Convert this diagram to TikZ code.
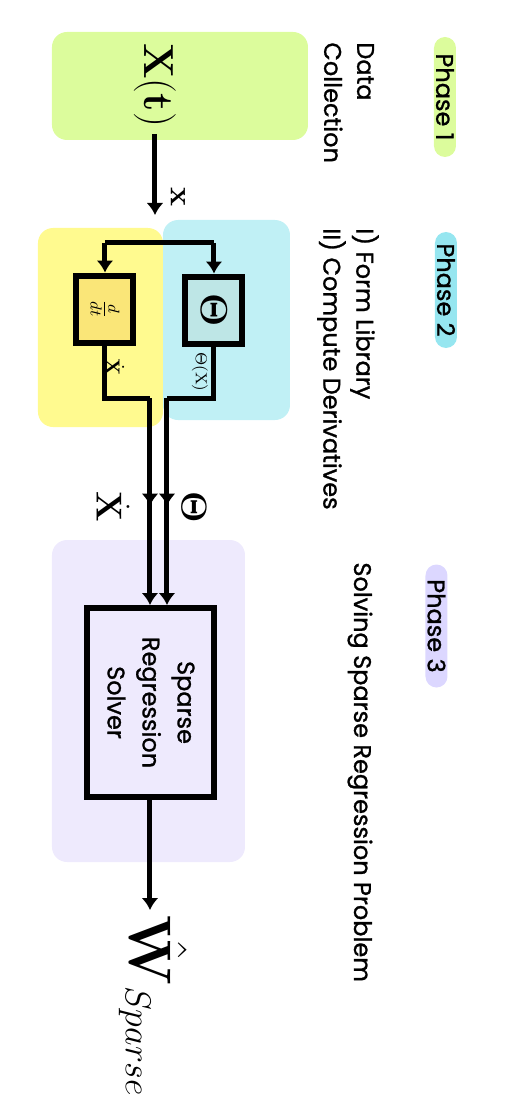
\RequirePackage{fix-cm}
\documentclass[tikz,border=0pt]{standalone}
\usepackage[no-math]{fontspec}
\newfontfamily\comicfont[FakeBold=1.1]{Poppins}
\usetikzlibrary{arrows.meta,positioning,decorations.markings}
\definecolor{datagreen}{HTML}{DCFC9C}
\definecolor{libcyan}{HTML}{C0F0F5}
\definecolor{derivyellow}{HTML}{FFFA8F}
\definecolor{solvelilac}{HTML}{EEEAFD}
\definecolor{pilltwo}{HTML}{96E6F0}
\definecolor{pillthree}{HTML}{DCD7FF}
\definecolor{ddtfill}{HTML}{FAE678}
\definecolor{thetafill}{HTML}{BEE6E6}
\begin{document}
\begin{tikzpicture}[x=0.5pt,y=0.5pt,rotate=-90,transform shape,
    phasepill/.style ={rounded corners=5.5pt, inner sep=0pt, minimum height=11pt,
                       font=\comicfont\fontsize{12}{12}\selectfont},
    phasetext/.style ={anchor=west, align=left, inner sep=0pt,
                       font=\comicfont\fontsize{12}{16.5}\selectfont},
    phasebg/.style   ={rounded corners=7.5pt, inner sep=0pt},
    blockbox/.style  ={draw, line width=3pt, inner sep=0pt},
    wire/.style      ={line width=2.5pt},
    flow/.style      ={line width=2.5pt, -{Latex[length=6pt,width=8.5pt]}},
    midflow/.style   ={flow, postaction=decorate, decoration={markings,
                       mark=at position 0.52 with {\arrow{Latex[length=6pt,width=8.5pt]}}}}]
   \useasboundingbox (0,0) rectangle (1118,-525);

   % background areas of the three phases
   \node[phasebg, fill=datagreen, minimum width=54pt, minimum height=128pt] (bgdata) at (86,-345) {};
   \node[phasebg, fill=libcyan, minimum width=100pt, minimum height=63.5pt] (bglib) at (320,-298.5) {};
   \node[phasebg, fill=derivyellow, minimum width=99.5pt, minimum height=62.5pt] (bgderiv) at (327.5,-424.5) {};
   \node[phasebg, fill=solvelilac, minimum width=161pt, minimum height=96.5pt] (bgsolve) at (701,-376.5) {};

   % phase titles
   \node[phasepill, fill=datagreen, minimum width=60pt] (phaseone) at (97,-80) {Phase 1};
   \node[phasepill, fill=pilltwo, minimum width=58pt] (phasetwo) at (290,-79) {Phase 2};
   \node[phasepill, fill=pillthree, minimum width=61.5pt] (phasethree) at (626,-88.5) {Phase 3};
   \node[phasetext] (datatext) at (42,-176) {Data\\Collection};
   \node[phasetext] (libtext) at (228,-177) {I) Form Library\\II) Compute Derivatives};
   \node[phasetext] (solvetext) at (562,-165) {Solving Sparse Regression Problem};

   % blocks
   \node (xt) at (85,-370) {\fontsize{21}{21}\selectfont$\mathbf{X(t)}$};
   \node[blockbox, fill=ddtfill, minimum width=33.5pt, minimum height=28.5pt] (ddt) at (309,-420)
        {\fontsize{12}{12}\selectfont$\frac{d}{dt}$};
   \node[blockbox, fill=thetafill, minimum width=33.5pt, minimum height=28.5pt] (theta) at (310,-311)
        {\fontsize{19}{19}\selectfont$\mathbf{\Theta}$};
   \node[blockbox, fill=solvelilac, minimum width=94.5pt, minimum height=63.5pt, align=center,
         font=\comicfont\fontsize{12}{17.5}\selectfont] (solver) at (702.5,-374) {Sparse\\Regression\\Solver};
   \node[anchor=base west, inner sep=0pt] (wsparse) at (915,-395)
        {\fontsize{30}{30}\selectfont$\hat{\mathbf{W}}$\raisebox{-2pt}{\fontsize{18}{18}\selectfont$Sparse$}};

   % connector points
   \coordinate (xend) at (215,-370);
   \coordinate (forkd) at (243,-420);
   \coordinate (forkt) at (243,-311);
   \coordinate (dturn) at (398,-420);
   \coordinate (dbend) at (398,-375);
   \coordinate (tturn) at (398,-311);
   \coordinate (tbend) at (398,-358);
   \coordinate (wend) at (910,-375);

   % connectors
   \draw[flow] (xt) -- (xend);
   \draw[wire] (forkd) -- (forkt);
   \draw[flow] (forkd) -- (ddt);
   \draw[flow] (forkt) -- (theta);
   \draw[wire] (ddt) -- (dturn) -- (dbend);
   \draw[midflow] (dbend) -- (dbend -| solver.west);
   \draw[wire] (theta) -- (tturn) -- (tbend);
   \draw[midflow] (tbend) -- (tbend -| solver.west);
   \draw[flow] (solver.east |- wend) -- (wend);

   % labels
   \node (xlabel) at (197,-347) {\fontsize{16}{16}\selectfont$\mathbf{x}$};
   \node (dotsmall) at (367,-410) {\fontsize{10}{10}\selectfont$\dot{\mathbf{X}}$};
   \node (thetasmall) at (372,-325) {\fontsize{8}{8}\selectfont$\Theta(\mathrm{X})$};
   \node (dotbig) at (507,-412) {\fontsize{18}{18}\selectfont$\dot{\mathbf{X}}$};
   \node (thetabig) at (507,-331) {\fontsize{18}{18}\selectfont$\mathbf{\Theta}$};
\end{tikzpicture}
\end{document}
